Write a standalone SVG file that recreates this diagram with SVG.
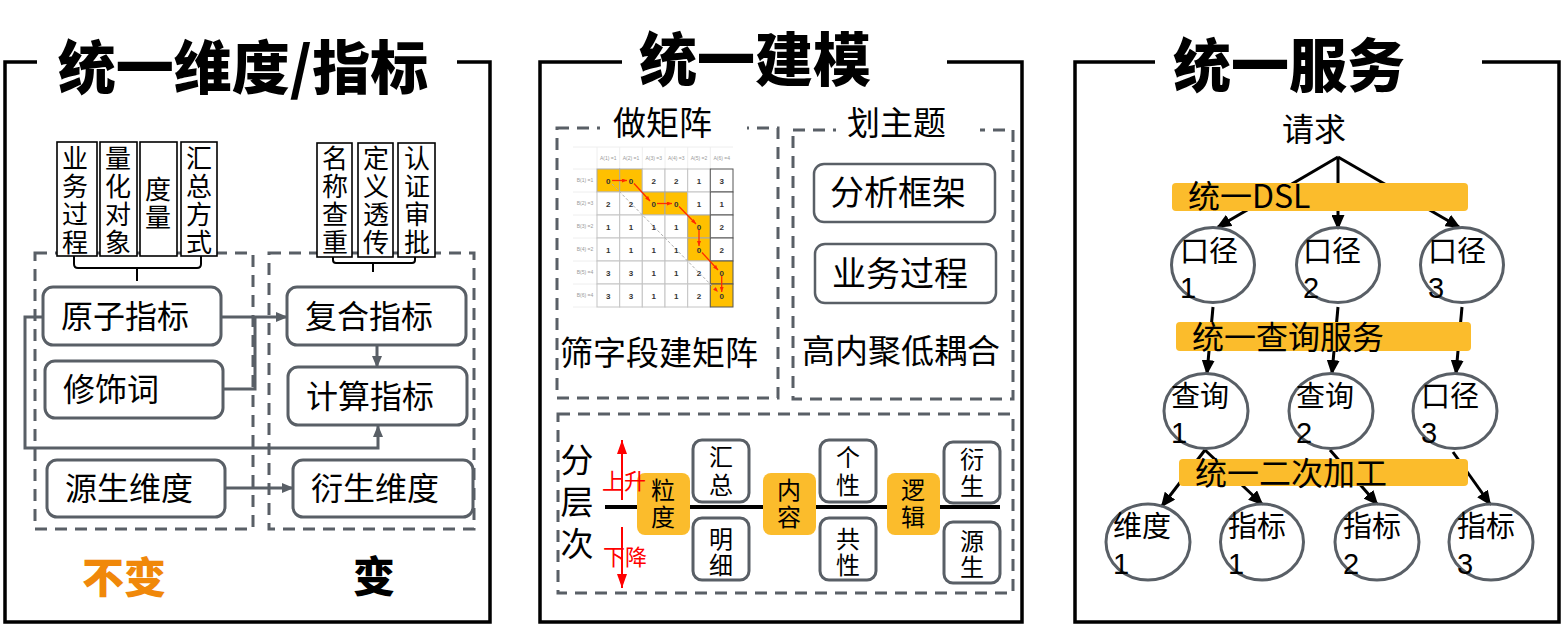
<svg xmlns="http://www.w3.org/2000/svg" width="1564" height="627" viewBox="0 0 1564 627">
<style>
.t{font-family:"Noto Sans CJK SC","Liberation Sans",sans-serif;fill:#000}
.d{font-family:"Liberation Sans","Noto Sans CJK SC",sans-serif;fill:#000;font-size:29px}
.ttl{font-weight:900;font-size:58px}
.frame{fill:none;stroke:#000;stroke-width:3.5}
.dash{fill:none;stroke:#595f66;stroke-width:3;stroke-dasharray:12 8}
.box{fill:#fff;stroke:#595f66;stroke-width:3}
.vbox{fill:#fff;stroke:#000;stroke-width:1.6}
.conn{fill:none;stroke:#595f66;stroke-width:3}
.blk{fill:none;stroke:#000;stroke-width:3}
.org{fill:#fbbc2c}
.ell{fill:none;stroke:#595f66;stroke-width:3}
.f24{font-size:24px}.f26{font-size:26px}.f32{font-size:32px}.f33{font-size:33px}.f29{font-size:29px}
.v{writing-mode:vertical-rl}
.cell{fill:#fff;stroke:#c4c4c4;stroke-width:1}
.hl{fill:#ffc000;stroke:#a8a8a8;stroke-width:1}
.lc{fill:#fff;stroke:#555;stroke-width:1}
.mv{font-family:"Liberation Sans",sans-serif;font-size:8px;fill:#333;text-anchor:middle;font-weight:bold}
.mh{font-family:"Liberation Sans",sans-serif;font-size:5px;fill:#999;text-anchor:middle}
</style>
<defs>
<marker id="ag" viewBox="0 0 12 10" refX="11" refY="5" markerWidth="12" markerHeight="10" markerUnits="userSpaceOnUse" orient="auto"><path d="M0,0 L12,5 L0,10 z" fill="#595f66"/></marker>
<marker id="ab" viewBox="0 0 15 13" refX="13" refY="6.5" markerWidth="15" markerHeight="13" markerUnits="userSpaceOnUse" orient="auto"><path d="M0,0 L15,6.5 L0,13 z" fill="#000"/></marker>
<marker id="ar" viewBox="0 0 14 10" refX="14" refY="5" markerWidth="14" markerHeight="10" markerUnits="userSpaceOnUse" orient="auto"><path d="M0,0 L14,5 L0,10 z" fill="#ff0000"/></marker>
<marker id="am" viewBox="0 0 5 4" refX="5" refY="2" markerWidth="5" markerHeight="4" markerUnits="userSpaceOnUse" orient="auto"><path d="M0,0 L5,2 L0,4 z" fill="#ff2a00"/></marker>
</defs>
<rect width="1564" height="627" fill="#fff"/>

<!-- Panel 1 -->
<g id="panel1">
<path class="frame" d="M37,62 H5 V622 H490 V62 H457"/>
<text class="t ttl" x="243" y="89" text-anchor="middle">统一维度/指标</text>
<rect class="dash" x="35" y="253" width="218" height="276"/>
<rect class="dash" x="269" y="253" width="205" height="276"/>
<text class="t" x="124" y="593" font-size="42" font-weight="900" text-anchor="middle" style="fill:#f0880a">不变</text>
<text class="t" x="374" y="592" font-size="42" font-weight="900" text-anchor="middle">变</text>
</g>
<g id="vboxes-left">
<rect class="vbox" x="57" y="142" width="40" height="114"/>
<rect class="vbox" x="100" y="142" width="37" height="114"/>
<rect class="vbox" x="140" y="142" width="37" height="114"/>
<rect class="vbox" x="181" y="142" width="36" height="114"/>
<text class="t f26 v" x="75" y="145" letter-spacing="2">业务过程</text>
<text class="t f26 v" x="118" y="145" letter-spacing="2">量化对象</text>
<text class="t f26 v" x="158" y="176" letter-spacing="2">度量</text>
<text class="t f26 v" x="199" y="145" letter-spacing="2">汇总方式</text>
<path fill="none" stroke="#000" stroke-width="2" d="M74,256 V264 Q74,268 78,268 H197 Q201,268 201,264 V256 M137,268 V281"/>
</g>
<g id="vboxes-right">
<rect class="vbox" x="317" y="143" width="35" height="114"/>
<rect class="vbox" x="358" y="143" width="35" height="114"/>
<rect class="vbox" x="398" y="143" width="37" height="114"/>
<text class="t f26 v" x="335" y="145" letter-spacing="2">名称查重</text>
<text class="t f26 v" x="376" y="145" letter-spacing="2">定义透传</text>
<text class="t f26 v" x="417" y="145" letter-spacing="2">认证审批</text>
<path fill="none" stroke="#000" stroke-width="2" d="M333,257 V260 Q333,263 336,263 H412 Q415,263 415,260 V257 M373,263 V272"/>
</g>
<g id="connectors1">
<path class="conn" d="M221,317 H287" marker-end="url(#ag)"/>
<path class="conn" d="M223,389 H255 V317"/>
<path class="conn" d="M43,317 H25 V448 H378 V426" marker-end="url(#ag)"/>
<path class="conn" d="M377,345 V367" marker-end="url(#ag)"/>
<path class="conn" d="M225,488 H293" marker-end="url(#ag)"/>
</g>
<g id="n-yuanzi"><rect class="box" x="43" y="287" width="178" height="58" rx="10"/><text class="t f32" x="61" y="328">原子指标</text></g>
<g id="n-xiushi"><rect class="box" x="45" y="361" width="178" height="57" rx="10"/><text class="t f32" x="63" y="401">修饰词</text></g>
<g id="n-yuansheng"><rect class="box" x="47" y="460" width="178" height="57" rx="10"/><text class="t f32" x="65" y="500">源生维度</text></g>
<g id="n-fuhe"><rect class="box" x="287" y="287" width="179" height="58" rx="10"/><text class="t f32" x="305" y="328">复合指标</text></g>
<g id="n-jisuan"><rect class="box" x="288" y="367" width="179" height="58" rx="10"/><text class="t f32" x="306" y="408">计算指标</text></g>
<g id="n-yansheng"><rect class="box" x="293" y="460" width="180" height="57" rx="10"/><text class="t f32" x="311" y="500">衍生维度</text></g>

<!-- Panel 2 -->
<g id="panel2">
<path class="frame" d="M622,62 H540 V622 H1022 V62 H947"/>
<text class="t ttl" x="755" y="81" text-anchor="middle">统一建模</text>
<rect class="dash" x="557" y="128" width="221" height="270"/>
<rect x="600" y="120" width="147" height="16" fill="#fff"/>
<text class="t f33" x="613" y="135">做矩阵</text>
<rect class="dash" x="793" y="130" width="220" height="269"/>
<rect x="836" y="122" width="144" height="16" fill="#fff"/>
<text class="t f33" x="847" y="135">划主题</text>
<text class="t f33" x="560" y="365">筛字段建矩阵</text>
<text class="t f33" x="802" y="363">高内聚低耦合</text>
<rect class="dash" x="558" y="414" width="455" height="179"/>
</g>
<g id="matrix">
<rect x="573" y="147" width="160" height="160" fill="#fff"/>
<path fill="none" stroke="#eeeeee" stroke-width="1" d="M573,147 H733 M573,169 H597 M597,147 V169 M619.7,147 V169 M642.3,147 V169 M665,147 V169 M687.7,147 V169 M710.3,147 V169 M573,192 H597 M573,215 H597 M573,238 H597 M573,261 H597 M573,284 H597 M573,307 H597"/>
<g class="mh">
<text x="608.3" y="160">A(1) =1</text><text x="631" y="160">A(2) =1</text><text x="653.7" y="160">A(3) =3</text><text x="676.3" y="160">A(4) =3</text><text x="699" y="160">A(5) =2</text><text x="721.7" y="160">A(6) =4</text>
<text x="585" y="182">B(1) =1</text><text x="585" y="205">B(2) =3</text><text x="585" y="228">B(3) =2</text><text x="585" y="251">B(4) =2</text><text x="585" y="274">B(5) =4</text><text x="585" y="297">B(6) =4</text>
</g>
<g>
<rect class="hl" x="597" y="169" width="22.7" height="23"/><rect class="hl" x="619.7" y="169" width="22.6" height="23"/><rect class="cell" x="642.3" y="169" width="22.7" height="23"/><rect class="cell" x="665" y="169" width="22.7" height="23"/><rect class="cell" x="687.7" y="169" width="22.6" height="23"/><rect class="lc" x="710.3" y="169" width="22.7" height="23"/>
<rect class="cell" x="597" y="192" width="22.7" height="23"/><rect class="cell" x="619.7" y="192" width="22.6" height="23"/><rect class="hl" x="642.3" y="192" width="22.7" height="23"/><rect class="hl" x="665" y="192" width="22.7" height="23"/><rect class="cell" x="687.7" y="192" width="22.6" height="23"/><rect class="lc" x="710.3" y="192" width="22.7" height="23"/>
<rect class="cell" x="597" y="215" width="22.7" height="23"/><rect class="cell" x="619.7" y="215" width="22.6" height="23"/><rect class="cell" x="642.3" y="215" width="22.7" height="23"/><rect class="cell" x="665" y="215" width="22.7" height="23"/><rect class="hl" x="687.7" y="215" width="22.6" height="23"/><rect class="lc" x="710.3" y="215" width="22.7" height="23"/>
<rect class="cell" x="597" y="238" width="22.7" height="23"/><rect class="cell" x="619.7" y="238" width="22.6" height="23"/><rect class="cell" x="642.3" y="238" width="22.7" height="23"/><rect class="cell" x="665" y="238" width="22.7" height="23"/><rect class="hl" x="687.7" y="238" width="22.6" height="23"/><rect class="lc" x="710.3" y="238" width="22.7" height="23"/>
<rect class="cell" x="597" y="261" width="22.7" height="23"/><rect class="cell" x="619.7" y="261" width="22.6" height="23"/><rect class="cell" x="642.3" y="261" width="22.7" height="23"/><rect class="cell" x="665" y="261" width="22.7" height="23"/><rect class="cell" x="687.7" y="261" width="22.6" height="23"/><rect class="hl" x="710.3" y="261" width="22.7" height="23" style="stroke:#555"/>
<rect class="cell" x="597" y="284" width="22.7" height="23"/><rect class="cell" x="619.7" y="284" width="22.6" height="23"/><rect class="cell" x="642.3" y="284" width="22.7" height="23"/><rect class="cell" x="665" y="284" width="22.7" height="23"/><rect class="cell" x="687.7" y="284" width="22.6" height="23"/><rect class="hl" x="710.3" y="284" width="22.7" height="23" style="stroke:#555"/>
</g>
<path d="M612,184 L718,292" fill="none" stroke="#b0b0b0" stroke-width="1" stroke-dasharray="3 2" marker-end="url(#am)"/>
<g class="mv">
<text x="608.3" y="183.5">0</text><text x="631" y="183.5">0</text><text x="653.7" y="183.5">2</text><text x="676.3" y="183.5">2</text><text x="699" y="183.5">1</text><text x="721.7" y="183.5">3</text>
<text x="608.3" y="206.5">2</text><text x="631" y="206.5">2</text><text x="653.7" y="206.5">0</text><text x="676.3" y="206.5">0</text><text x="699" y="206.5">1</text><text x="721.7" y="206.5">1</text>
<text x="608.3" y="229.5">1</text><text x="631" y="229.5">1</text><text x="653.7" y="229.5">1</text><text x="676.3" y="229.5">1</text><text x="699" y="229.5">0</text><text x="721.7" y="229.5">2</text>
<text x="608.3" y="252.5">1</text><text x="631" y="252.5">1</text><text x="653.7" y="252.5">1</text><text x="676.3" y="252.5">1</text><text x="699" y="252.5">0</text><text x="721.7" y="252.5">2</text>
<text x="608.3" y="275.5">3</text><text x="631" y="275.5">3</text><text x="653.7" y="275.5">1</text><text x="676.3" y="275.5">1</text><text x="699" y="275.5">2</text><text x="721.7" y="275.5">0</text>
<text x="608.3" y="298.5">3</text><text x="631" y="298.5">3</text><text x="653.7" y="298.5">1</text><text x="676.3" y="298.5">1</text><text x="699" y="298.5">2</text><text x="721.7" y="298.5">0</text>
</g>
<g fill="none" stroke="#ff2a00" stroke-width="1.3">
<path d="M612,180.5 H627" marker-end="url(#am)"/>
<path d="M634,183.5 L650,201" marker-end="url(#am)"/>
<path d="M657,203.5 H672" marker-end="url(#am)"/>
<path d="M679,206.5 L696,224" marker-end="url(#am)"/>
<path d="M699,230 V246" marker-end="url(#am)"/>
<path d="M702,252.5 L718,270" marker-end="url(#am)"/>
<path d="M721.7,276 V292" marker-end="url(#am)"/>
</g>
</g>
<g id="n-fenxi"><rect class="box" x="814" y="164" width="181" height="58" rx="10" style="stroke-width:2.5"/><text class="t" font-size="34" x="830" y="205">分析框架</text></g>
<g id="n-yewu"><rect class="box" x="815" y="244" width="181" height="59" rx="10" style="stroke-width:2.5"/><text class="t" font-size="34" x="832" y="286">业务过程</text></g>
<g id="layers">
<text class="t f33 v" x="577" y="443" letter-spacing="9">分层次</text>
<path d="M622,500 V440" fill="none" stroke="#ff0000" stroke-width="2" marker-end="url(#ar)"/>
<path d="M622,527 V588" fill="none" stroke="#ff0000" stroke-width="2" marker-end="url(#ar)"/>
<path d="M605,507 H1000" stroke="#000" stroke-width="4"/>
</g>
<g id="n-lidu"><rect class="org" x="637" y="473" width="53" height="62" rx="8"/><text class="t f24 v" x="663" y="478" letter-spacing="3">粒度</text></g>
<g id="n-neirong"><rect class="org" x="763" y="473" width="53" height="62" rx="8"/><text class="t f24 v" x="789" y="478" letter-spacing="3">内容</text></g>
<g id="n-luoji"><rect class="org" x="887" y="473" width="53" height="62" rx="8"/><text class="t f24 v" x="913" y="478" letter-spacing="3">逻辑</text></g>
<g id="n-huizong"><rect class="box" x="693" y="440" width="56" height="62" rx="9"/><text class="t f24 v" x="721" y="445" letter-spacing="4">汇总</text></g>
<g id="n-mingxi"><rect class="box" x="693" y="518" width="56" height="62" rx="9"/><text class="t f24 v" x="721" y="527" letter-spacing="2">明细</text></g>
<g id="n-gexing"><rect class="box" x="820" y="440" width="56" height="62" rx="9"/><text class="t f24 v" x="848" y="445" letter-spacing="4">个性</text></g>
<g id="n-gongxing"><rect class="box" x="820" y="518" width="56" height="62" rx="9"/><text class="t f24 v" x="848" y="527" letter-spacing="2">共性</text></g>
<g id="n-yansheng2"><rect class="box" x="944" y="442" width="56" height="61" rx="9"/><text class="t f24 v" x="972" y="447" letter-spacing="3">衍生</text></g>
<g id="n-yuansheng2"><rect class="box" x="944" y="522" width="56" height="61" rx="9"/><text class="t f24 v" x="972" y="529" letter-spacing="2">源生</text></g>
<g id="updown-labels">
<text class="t" font-size="22" x="602" y="489" style="fill:#ff0000">上升</text>
<text class="t" font-size="22" x="603" y="565" style="fill:#ff0000">下降</text>
</g>

<!-- Panel 3 -->
<g id="panel3">
<path class="frame" d="M1155,62 H1075 V622 H1559 V62 H1482"/>
<text class="t ttl" x="1289" y="87" text-anchor="middle">统一服务</text>
<text class="t f32" x="1282" y="141">请求</text>
</g>
<g id="connectors3">
<path class="blk" d="M1338,157 L1218,227" marker-end="url(#ab)"/>
<path class="blk" d="M1338,157 V228" marker-end="url(#ab)"/>
<path class="blk" d="M1338,157 L1459,227" marker-end="url(#ab)"/>
<path class="blk" d="M1213,307 L1207,373" marker-end="url(#ab)"/>
<path class="blk" d="M1338,307 L1332,373" marker-end="url(#ab)"/>
<path class="blk" d="M1462,307 L1456,373" marker-end="url(#ab)"/>
<path class="blk" d="M1205,450 L1162,506" marker-end="url(#ab)"/>
<path class="blk" d="M1205,450 L1262,504" marker-end="url(#ab)"/>
<path class="blk" d="M1330,450 L1377,504" marker-end="url(#ab)"/>
<path class="blk" d="M1453,452 L1490,504" marker-end="url(#ab)"/>
</g>
<g id="bar-dsl"><rect class="org" x="1172" y="183" width="296" height="28" rx="4"/><text class="t f32" x="1188" y="208">统一DSL</text></g>
<g id="bar-query"><rect class="org" x="1176" y="322" width="295" height="29" rx="4"/><text class="t f32" x="1192" y="349">统一查询服务</text></g>
<g id="bar-proc"><rect class="org" x="1179" y="459" width="289" height="27" rx="4"/><text class="t f32" x="1195" y="485">统一二次加工</text></g>
<g id="c-kj1"><ellipse class="ell" cx="1213" cy="265" rx="41.5" ry="37.5"/><text class="t f29" x="1180" y="262">口径</text><text class="d" x="1180" y="298">1</text></g>
<g id="c-kj2"><ellipse class="ell" cx="1338" cy="265" rx="41.5" ry="37.5"/><text class="t f29" x="1303" y="262">口径</text><text class="d" x="1303" y="298">2</text></g>
<g id="c-kj3"><ellipse class="ell" cx="1462" cy="265" rx="41.5" ry="37.5"/><text class="t f29" x="1428" y="262">口径</text><text class="d" x="1428" y="298">3</text></g>
<g id="c-cx1"><ellipse class="ell" cx="1206" cy="411" rx="42" ry="37.5"/><text class="t f29" x="1171" y="407">查询</text><text class="d" x="1171" y="443">1</text></g>
<g id="c-cx2"><ellipse class="ell" cx="1331" cy="411" rx="42" ry="37.5"/><text class="t f29" x="1296" y="407">查询</text><text class="d" x="1296" y="443">2</text></g>
<g id="c-kj3b"><ellipse class="ell" cx="1455" cy="411" rx="42" ry="37.5"/><text class="t f29" x="1421" y="407">口径</text><text class="d" x="1421" y="443">3</text></g>
<g id="c-wd1"><ellipse class="ell" cx="1148" cy="542" rx="42" ry="38"/><text class="t f29" x="1113" y="537">维度</text><text class="d" x="1113" y="574">1</text></g>
<g id="c-zb1"><ellipse class="ell" cx="1262" cy="542" rx="41.5" ry="38"/><text class="t f29" x="1228" y="537">指标</text><text class="d" x="1228" y="574">1</text></g>
<g id="c-zb2"><ellipse class="ell" cx="1377" cy="542" rx="42" ry="38"/><text class="t f29" x="1343" y="537">指标</text><text class="d" x="1343" y="574">2</text></g>
<g id="c-zb3"><ellipse class="ell" cx="1491" cy="542" rx="42" ry="38"/><text class="t f29" x="1457" y="537">指标</text><text class="d" x="1457" y="574">3</text></g>
</svg>
